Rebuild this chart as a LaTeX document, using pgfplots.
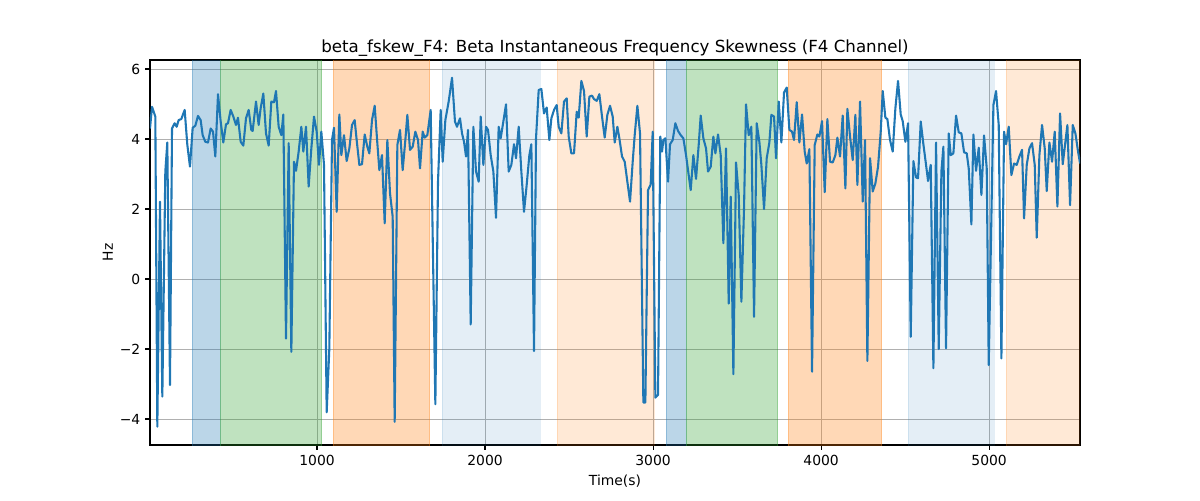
\documentclass[border=0pt]{standalone}
\usepackage{pgfplots}
\pgfplotsset{compat=1.18}
\usepackage{fontspec}
\setmainfont{DejaVu Sans}
\definecolor{tabblue}{HTML}{1F77B4}
\definecolor{tabgreen}{HTML}{2CA02C}
\definecolor{taborange}{HTML}{FF7F0E}
\definecolor{gridgray}{HTML}{B0B0B0}
\begin{document}
\begin{tikzpicture}
\begin{axis}[
  at={(0,0)}, anchor=south west,
  scale only axis, width=669.6pt, height=277.2pt,
  xmin=6, xmax=5541, ymin=-4.743, ymax=6.257,
  xtick={1000,2000,3000,4000,5000},
  xticklabels={1000,2000,3000,4000,5000},
  ytick={-4,-2,0,2,4,6},
  yticklabels={−4,−2,0,2,4,6},
  xtick pos=bottom, ytick pos=left,
  tick align=outside, major tick length=3.5pt,
  tick style={black, line width=0.8pt},
  axis line style={black, line width=0.8pt},
  grid=major, major grid style={gridgray, line width=0.7pt},
  tick label style={font=\fontsize{10}{12}\selectfont},
  label style={font=\fontsize{10}{12}\selectfont},
  xlabel={Time(s)}, ylabel={Hz},
  ylabel style={xshift=0pt, yshift=-2pt},
  title={beta\_fskew\_F4: Beta Instantaneous Frequency Skewness (F4 Channel)},
  title style={font=\fontsize{12}{14}\selectfont, yshift=-7pt},
  /pgf/number format/assume math mode=true,
]
\addplot[draw=tabblue, draw opacity=0.3, fill=tabblue, fill opacity=0.3, forget plot] coordinates {(258,-10) (258,10) (424,10) (424,-10)} -- cycle;
\addplot[draw=tabgreen, draw opacity=0.3, fill=tabgreen, fill opacity=0.3, forget plot] coordinates {(424,-10) (424,10) (1028,10) (1028,-10)} -- cycle;
\addplot[draw=taborange, draw opacity=0.3, fill=taborange, fill opacity=0.3, forget plot] coordinates {(1097,-10) (1097,10) (1671,10) (1671,-10)} -- cycle;
\addplot[draw=tabblue, draw opacity=0.12, fill=tabblue, fill opacity=0.12, forget plot] coordinates {(1744,-10) (1744,10) (2327,10) (2327,-10)} -- cycle;
\addplot[draw=taborange, draw opacity=0.17, fill=taborange, fill opacity=0.17, forget plot] coordinates {(2429,-10) (2429,10) (3006,10) (3006,-10)} -- cycle;
\addplot[draw=tabblue, draw opacity=0.3, fill=tabblue, fill opacity=0.3, forget plot] coordinates {(3077,-10) (3077,10) (3198,10) (3198,-10)} -- cycle;
\addplot[draw=tabgreen, draw opacity=0.3, fill=tabgreen, fill opacity=0.3, forget plot] coordinates {(3198,-10) (3198,10) (3742,10) (3742,-10)} -- cycle;
\addplot[draw=taborange, draw opacity=0.3, fill=taborange, fill opacity=0.3, forget plot] coordinates {(3805,-10) (3805,10) (4361,10) (4361,-10)} -- cycle;
\addplot[draw=tabblue, draw opacity=0.12, fill=tabblue, fill opacity=0.12, forget plot] coordinates {(4518,-10) (4518,10) (5028,10) (5028,-10)} -- cycle;
\addplot[draw=taborange, draw opacity=0.17, fill=taborange, fill opacity=0.17, forget plot] coordinates {(5101,-10) (5101,10) (5600,10) (5600,-10)} -- cycle;
\addplot[tabblue, line width=1.5pt, line join=round, no marks] coordinates {
(6,4.30) (17.9,4.92) (37.7,4.64) (49.6,-4.22) (65.5,2.21) (79.4,-3.36) (97.2,3.07) (109,3.90) (125,-3.03) (137,4.30)
(152.8,4.45) (164.7,4.35) (176.6,4.54) (192.4,4.57) (212.3,4.83) (228.2,3.83) (244,3.21) (259.9,4.32) (275.8,4.38) (291.6,4.66)
(307.5,4.54) (319.4,4.11) (335.3,3.92) (351.2,3.90) (367,4.30) (381,4.21) (394.8,3.50) (410.7,5.28) (426.6,4.50) (442.4,3.90)
(458.3,4.42) (470.2,4.45) (486.1,4.83) (502,4.64) (517.8,4.40) (529.7,4.61) (545.6,3.92) (561.5,3.81) (577.3,4.59) (593.2,4.83)
(609,4.26) (617,4.23) (636.9,5.07) (652.7,4.40) (664.6,4.88) (680.5,5.30) (696.4,4.16) (712.3,3.81) (728.1,5.07) (744,5.05)
(755.9,5.37) (771.8,4.35) (787.6,4.11) (799.5,4.70) (815.4,-1.70) (831.3,3.88) (847.2,-2.08) (863,3.35) (875,3.09) (890.8,3.64)
(906.7,4.35) (918.6,3.64) (934.5,4.35) (950.3,2.64) (966.2,3.73) (982.1,4.64) (998,4.21) (1011.8,3.26) (1025.7,4.21) (1041.6,3.26)
(1057.5,-3.81) (1073.3,-1.98) (1089.2,3.97) (1101.1,4.32) (1117,1.92) (1132.9,4.70) (1144.8,3.54) (1160.6,4.11) (1176.5,3.37) (1192.4,3.73)
(1208.3,4.40) (1224.1,4.54) (1236,3.97) (1252,3.26) (1267.8,3.28) (1283.7,4.13) (1299.5,3.78) (1311.4,3.59) (1327.3,4.54) (1343.2,4.95)
(1359,3.88) (1371,3.11) (1386.8,3.54) (1402.7,1.59) (1418.6,3.97) (1434.4,2.45) (1450.3,1.78) (1462.2,-4.08) (1478.1,3.83) (1494,4.26)
(1509.8,3.11) (1525.7,3.97) (1537.6,4.69) (1553.5,3.69) (1569.4,3.78) (1585.2,4.21) (1601.1,3.97) (1613,3.16) (1628.9,4.21) (1640.8,4.04)
(1656.6,4.11) (1676.5,4.83) (1704.3,-3.58) (1720.1,2.78) (1736,4.83) (1747.9,3.35) (1763.8,4.54) (1783.6,5.07) (1803.5,5.75) (1821,4.50)
(1833.2,4.35) (1851,4.59) (1863,4.16) (1874.9,3.92) (1886.8,3.50) (1898.7,4.26) (1914.6,-1.30) (1930.4,4.35) (1946.3,3.07) (1962.2,2.78)
(1974.1,4.64) (1990,3.26) (2005.8,4.35) (2017.7,4.26) (2033.6,3.54) (2049.5,3.07) (2065.3,1.75) (2081.2,4.35) (2093.1,4.02) (2109,4.50)
(2124.9,4.99) (2140.7,3.07) (2156.6,3.26) (2172.5,3.85) (2184.4,3.45) (2200.3,4.35) (2216.1,3.07) (2232,1.92) (2247.9,2.69) (2263.8,3.54)
(2275.6,3.85) (2291.5,-2.06) (2303.4,4.02) (2319.3,5.40) (2335.2,5.43) (2351,4.73) (2366.9,4.90) (2382.8,3.97) (2394.7,4.59) (2410.6,4.83)
(2426.4,4.97) (2438.3,4.35) (2454.2,4.16) (2470.1,5.07) (2486,5.16) (2497.9,4.07) (2513.7,3.59) (2529.6,3.59) (2545.5,4.78) (2557.4,4.61)
(2573.3,5.66) (2589.1,5.37) (2605,4.07) (2620.9,5.21) (2636.7,5.24) (2648.6,5.14) (2664.5,5.09) (2680.4,5.28) (2696.3,4.64) (2712.1,4.04)
(2728,4.69) (2743.9,4.95) (2759.8,4.64) (2771.7,3.90) (2787.5,4.35) (2799.4,4.02) (2815.3,3.50) (2831.2,3.35) (2847,2.78) (2862.9,2.21)
(2878.8,3.35) (2890.7,4.11) (2906.6,4.95) (2922.4,4.16) (2942.3,-3.53) (2954.2,-3.53) (2970,2.54) (2985.9,2.70) (2997.8,4.21) (3013.7,-3.39)
(3029.6,-3.31) (3043,4.07) (3053.4,3.64) (3061.3,3.97) (3073.2,4.02) (3089.1,2.78) (3101,3.85) (3116.9,3.97) (3132.7,4.45) (3148.6,4.23)
(3164.5,4.11) (3180.3,4.02) (3196.2,3.54) (3208.1,3.11) (3224,2.54) (3239.9,3.54) (3255.7,2.86) (3271.6,3.83) (3283.5,4.67) (3299.4,4.02)
(3315.3,3.73) (3327.2,3.07) (3343.1,3.21) (3358.9,4.07) (3370.8,3.59) (3386.7,4.13) (3402.6,3.54) (3418.4,1.02) (3434.3,3.73) (3450.2,-0.70)
(3462.1,2.35) (3478,-2.72) (3493.8,3.33) (3509.7,2.40) (3525.6,-0.65) (3541.4,2.02) (3553.3,4.99) (3569.2,4.11) (3585.1,4.35) (3601,-1.08)
(3616.8,4.45) (3632.7,3.92) (3644.6,3.26) (3660.5,2.00) (3676.4,3.45) (3692.2,3.90) (3704.1,4.69) (3720,4.64) (3731.9,3.45) (3747.8,5.07)
(3763.6,3.90) (3779.5,5.33) (3795.4,5.47) (3811.3,4.26) (3827.1,4.21) (3839,3.97) (3854.9,5.05) (3870.8,3.90) (3886.7,4.70) (3902.5,3.64)
(3914.4,3.30) (3930.3,3.71) (3946.2,-2.65) (3962,3.83) (3977.9,4.13) (3989.8,4.07) (4005.7,4.51) (4021.6,2.48) (4037.4,4.57) (4053.3,3.35)
(4069.2,3.33) (4085.1,3.54) (4097,4.04) (4112.8,3.50) (4128.7,4.67) (4144.6,2.59) (4156.5,4.86) (4172.4,4.07) (4188.2,3.40) (4204.1,4.69)
(4216,2.69) (4231.9,5.07) (4247.8,2.21) (4261.6,3.97) (4275.5,-2.34) (4291.4,3.45) (4307.3,2.50) (4323.1,2.73) (4339,3.21) (4354.9,4.21)
(4366.8,5.37) (4382.6,4.61) (4394.5,4.57) (4410.4,3.97) (4426.3,3.64) (4442.2,4.88) (4458,5.66) (4473.9,4.70) (4485.8,4.51) (4501.7,3.92)
(4517.6,4.45) (4533.5,-1.65) (4549.3,3.37) (4565.2,2.90) (4577.1,2.88) (4593,4.50) (4608.8,3.85) (4624.7,3.26) (4636.6,2.80) (4652.5,3.26)
(4668.4,-2.55) (4684.2,3.90) (4700.1,-2.00) (4716,3.07) (4727.9,3.78) (4743.7,-1.98) (4759.6,4.16) (4771.5,3.54) (4787.4,3.59) (4803.3,4.67)
(4819.2,4.19) (4835,4.16) (4850.9,3.62) (4866.8,3.59) (4878.7,3.16) (4894.5,1.56) (4906.4,4.13) (4922.3,3.09) (4938.2,3.75) (4954.1,2.40)
(4969.9,4.10) (4985.8,3.16) (4997.7,-2.46) (5025.5,4.97) (5041.3,5.37) (5057.2,4.40) (5073.1,-2.27) (5089,4.21) (5100.9,3.85) (5116.7,4.35)
(5132.6,2.97) (5148.5,3.30) (5164.4,3.26) (5180.2,3.50) (5196.1,3.69) (5208,1.73) (5223.9,3.26) (5239.8,3.73) (5255.6,3.88) (5271.5,3.26)
(5283.4,1.18) (5299.3,3.54) (5315.1,4.40) (5331,3.73) (5342.9,2.51) (5358.8,3.90) (5374.7,3.35) (5390.5,4.21) (5406.4,2.07) (5422.3,4.73)
(5438.2,3.28) (5454,3.92) (5465.9,4.40) (5481.8,2.11) (5497.7,4.40) (5513.6,4.16) (5529.4,3.64) (5541.3,3.30)
};
\end{axis}
\pgfresetboundingbox
\path (-108pt,-39.6pt) rectangle (756pt,320.4pt);
\end{tikzpicture}
\end{document}
